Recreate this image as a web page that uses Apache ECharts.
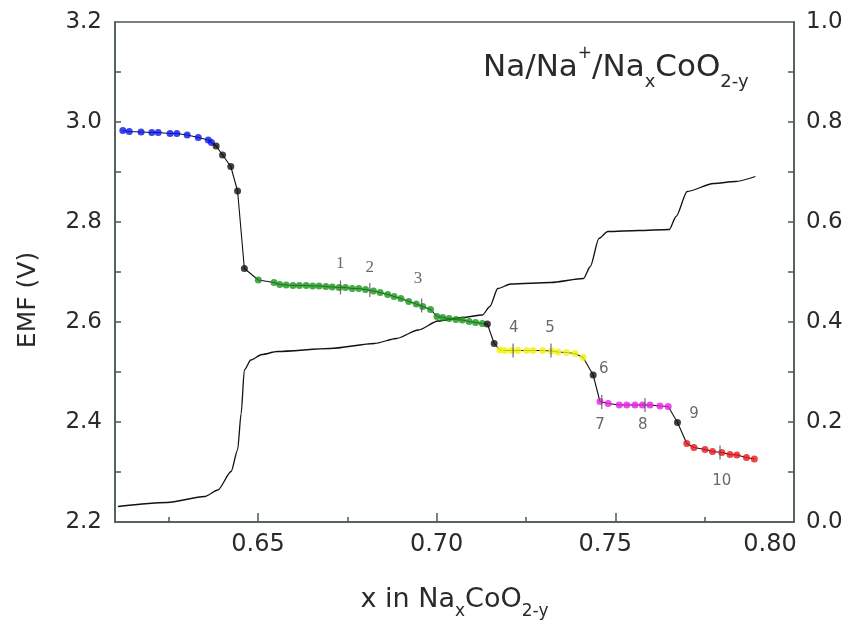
<!DOCTYPE html>
<html>
<head>
<meta charset="utf-8">
<script src="https://cdn.jsdelivr.net/npm/echarts@6/dist/echarts.min.js"></script>
<style>
  html, body { margin: 0; padding: 0; background: #fff; }
  #chart { width: 860px; height: 625px; }
</style>
</head>
<body>
<div id="chart"></div>
<script>
// Axis ticks and labels
const xTickLabels = [0.65, 0.70, 0.75, 0.80];
const xMajorTicks = [0.65, 0.70, 0.75];
const xMinorTicks = [0.625, 0.675, 0.725, 0.775];
const emfTickLabels = [2.2, 2.4, 2.6, 2.8, 3.0, 3.2];
const emfTicks = [2.3, 2.4, 2.5, 2.6, 2.7, 2.8, 2.9, 3.0, 3.1];
const rightTickLabels = [0.0, 0.2, 0.4, 0.6, 0.8, 1.0];
const rightTicks = [0.1, 0.2, 0.3, 0.4, 0.5, 0.6, 0.7, 0.8, 0.9];

// EMF measurements [x, EMF], grouped by plateau
const bluePts = [
  [0.6122, 2.983], [0.6140, 2.981], [0.6173, 2.980], [0.6203, 2.979], [0.6221, 2.979],
  [0.6254, 2.977], [0.6273, 2.977], [0.6302, 2.974], [0.6333, 2.969], [0.6361, 2.964],
  [0.6370, 2.959]
];
const blackPtsA = [[0.6383, 2.952], [0.6401, 2.934], [0.6424, 2.911], [0.6443, 2.862], [0.6462, 2.707]];
const greenPts = [
  [0.6501, 2.684], [0.6545, 2.679], [0.6561, 2.675], [0.6579, 2.674], [0.6598, 2.673],
  [0.6616, 2.673], [0.6635, 2.673], [0.6653, 2.672], [0.6671, 2.672], [0.6690, 2.671],
  [0.6708, 2.670], [0.6727, 2.669], [0.6745, 2.669], [0.6764, 2.667], [0.6782, 2.667],
  [0.6801, 2.665], [0.6823, 2.662], [0.6842, 2.659], [0.6863, 2.655], [0.6881, 2.651],
  [0.6900, 2.647], [0.6922, 2.641], [0.6943, 2.636], [0.6961, 2.631], [0.6983, 2.625],
  [0.7001, 2.611], [0.7017, 2.609], [0.7035, 2.607], [0.7054, 2.605], [0.7072, 2.604],
  [0.7091, 2.601], [0.7109, 2.599], [0.7128, 2.597]
];
const blackPtsB = [[0.7142, 2.596], [0.7161, 2.557]];
const yellowPts = [
  [0.7177, 2.544], [0.7191, 2.543], [0.7210, 2.543], [0.7228, 2.543], [0.7252, 2.543],
  [0.7270, 2.543], [0.7297, 2.543], [0.7322, 2.542], [0.7340, 2.540], [0.7364, 2.539],
  [0.7387, 2.537], [0.7410, 2.529]
];
const blackPtsC = [[0.7438, 2.494]];
const magentaPts = [
  [0.7457, 2.441], [0.7480, 2.437], [0.7511, 2.434], [0.7532, 2.434], [0.7555, 2.434],
  [0.7576, 2.434], [0.7597, 2.434], [0.7625, 2.432], [0.7648, 2.431]
];
const blackPtsD = [[0.7674, 2.399]];
const redPts = [
  [0.7700, 2.357], [0.7720, 2.349], [0.7751, 2.345], [0.7772, 2.341], [0.7798, 2.339],
  [0.7821, 2.335], [0.7840, 2.334], [0.7867, 2.329], [0.7889, 2.326]
];

// Second quantity (right axis) [x, value]
const rightCurve = [
  [0.6108, 0.031], [0.6246, 0.039], [0.6351, 0.051], [0.6388, 0.064], [0.6425, 0.101],
  [0.6443, 0.144], [0.6453, 0.217], [0.6462, 0.304], [0.6480, 0.324], [0.6511, 0.335],
  [0.6554, 0.341], [0.6702, 0.347], [0.6826, 0.357], [0.6887, 0.367], [0.6949, 0.384],
  [0.7004, 0.402], [0.7072, 0.409], [0.7128, 0.414], [0.7149, 0.431], [0.7171, 0.467],
  [0.7208, 0.476], [0.7319, 0.479], [0.7411, 0.487], [0.7430, 0.511], [0.7454, 0.567],
  [0.7479, 0.581], [0.7565, 0.583], [0.7651, 0.585], [0.7670, 0.611], [0.7701, 0.661],
  [0.7775, 0.677], [0.7836, 0.681], [0.7892, 0.691]
];

// Numbered compositions: short markers on the curve and their labels
const markerPts = [
  [0.6731, 2.669], [0.6813, 2.664], [0.6958, 2.633], [0.7214, 2.543], [0.7320, 2.543],
  [0.7462, 2.440], [0.7583, 2.434], [0.7793, 2.339]
];
const numberNames = ['1', '2', '3', '4', '5', '6', '7', '8', '9', '10'];
const numberPos = [
  [0.6730, 2.716], [0.6813, 2.708], [0.6948, 2.686], [0.7216, 2.588], [0.7317, 2.588],
  [0.7468, 2.506], [0.7457, 2.394], [0.7577, 2.394], [0.7720, 2.416], [0.7798, 2.282]
];

const FONT = 'DejaVu Sans, Verdana, sans-serif';
const SERIF = 'Liberation Serif, Times New Roman, serif';
const TEXT = '#2a2a2a';
const AXIS_COLOR = '#4c5858';
const allEmf = [].concat(bluePts, blackPtsA, greenPts, blackPtsB, yellowPts, blackPtsC, magentaPts, blackPtsD, redPts);

function dots(data, color, size) {
  return {
    type: 'scatter', data: data, symbol: 'circle', symbolSize: size || 7,
    itemStyle: { color: color }, z: 5, silent: true
  };
}

const chart = echarts.init(document.getElementById('chart'), null, { renderer: 'canvas' });
chart.setOption({
  animation: false,
  backgroundColor: '#fff',
  title: {
    text: '{a|Na/Na}{sup|+}{a|/Na}{sub|x}{a|CoO}{sub|2-y}',
    left: 478, top: 40,
    textStyle: {
      fontWeight: 'normal',
      rich: {
        a: { fontFamily: FONT, fontSize: 31, fontWeight: 'normal', color: TEXT, lineHeight: 46, verticalAlign: 'middle' },
        sup: { fontFamily: FONT, fontSize: 17, fontWeight: 'normal', color: TEXT, lineHeight: 46, verticalAlign: 'top' },
        sub: { fontFamily: FONT, fontSize: 18, fontWeight: 'normal', color: TEXT, lineHeight: 46, verticalAlign: 'bottom' }
      }
    }
  },
  grid: {
    left: 115, right: 66, top: 22, bottom: 103,
    outerBoundsMode: 'none', containLabel: false,
    show: true, borderColor: AXIS_COLOR, borderWidth: 1.5, backgroundColor: 'transparent'
  },
  xAxis: [
    {
      type: 'value', min: 0.61, max: 0.80, position: 'bottom',
      name: '{a|x in Na}{sub|x}{a|CoO}{sub|2-y}',
      nameLocation: 'middle', nameGap: 58,
      nameTextStyle: {
        rich: {
          a: { fontFamily: FONT, fontSize: 27, color: TEXT, lineHeight: 40, verticalAlign: 'middle' },
          sub: { fontFamily: FONT, fontSize: 17, color: TEXT, lineHeight: 40, verticalAlign: 'bottom' }
        }
      },
      axisLine: { show: true, lineStyle: { color: AXIS_COLOR, width: 1.5 } },
      axisTick: { show: true, inside: true, length: 9, customValues: xMajorTicks, lineStyle: { color: AXIS_COLOR, width: 1.5 } },
      axisLabel: {
        customValues: xTickLabels, margin: 11,
        formatter: function (v) {
          const s = v.toFixed(2);
          if (v > 0.79) return '{far|' + s + '}';
          if (v > 0.74) return '{mid|' + s + '}';
          return '{n|' + s + '}';
        },
        rich: {
          n: { fontFamily: FONT, fontSize: 24, color: TEXT },
          mid: { fontFamily: FONT, fontSize: 24, color: TEXT, padding: [0, 20, 0, 0] },
          far: { fontFamily: FONT, fontSize: 24, color: TEXT, padding: [0, 48, 0, 0] }
        }
      },
      splitLine: { show: false }
    },
    {
      type: 'value', min: 0.61, max: 0.80, position: 'bottom',
      axisLine: { show: false },
      axisTick: { show: true, inside: true, length: 5, customValues: xMinorTicks, lineStyle: { color: AXIS_COLOR, width: 1.5 } },
      axisLabel: { show: false },
      splitLine: { show: false }
    }
  ],
  yAxis: [
    {
      type: 'value', min: 2.2, max: 3.2, position: 'left',
      name: 'EMF (V)', nameLocation: 'middle', nameGap: 74,
      nameTextStyle: { fontFamily: FONT, fontSize: 25, color: TEXT, padding: [0, 56, 0, 0] },
      axisLine: { show: true, lineStyle: { color: AXIS_COLOR, width: 1.5 } },
      axisTick: { show: true, inside: true, length: 6, customValues: emfTicks, lineStyle: { color: AXIS_COLOR, width: 1.5 } },
      axisLabel: {
        customValues: emfTickLabels, margin: 13, fontFamily: FONT, fontSize: 23, color: TEXT,
        formatter: v => v.toFixed(1)
      },
      splitLine: { show: false }
    },
    {
      type: 'value', min: 0, max: 1, position: 'right',
      axisLine: { show: true, lineStyle: { color: AXIS_COLOR, width: 1.5 } },
      axisTick: { show: true, inside: true, length: 6, customValues: rightTicks, lineStyle: { color: AXIS_COLOR, width: 1.5 } },
      axisLabel: {
        customValues: rightTickLabels, margin: 12, fontFamily: FONT, fontSize: 23, color: TEXT,
        formatter: v => v.toFixed(1)
      },
      splitLine: { show: false }
    }
  ],
  series: [
    {
      type: 'line', yAxisIndex: 1, data: rightCurve, showSymbol: false,
      smooth: 0.25, smoothMonotone: 'x',
      lineStyle: { color: '#111', width: 1.3 }, z: 2, silent: true
    },
    {
      type: 'line', data: allEmf, showSymbol: false,
      lineStyle: { color: '#111', width: 1.1 }, z: 3, silent: true
    },
    {
      type: 'scatter', data: markerPts, symbol: 'rect', symbolSize: [1.3, 14],
      itemStyle: { color: '#555' }, z: 6, silent: true
    },
    dots(bluePts, '#0a14e6'),
    dots(greenPts, '#1a931a'),
    dots(yellowPts, '#f4f20c'),
    dots(magentaPts, '#e81ee6'),
    dots(redPts, '#e8141c'),
    dots([].concat(blackPtsA, blackPtsB, blackPtsC, blackPtsD), '#111'),
    {
      type: 'scatter', symbolSize: 0, silent: true, z: 7,
      data: numberPos.map((p, i) => ({
        value: p, name: numberNames[i],
        label: i < 3 ? { fontFamily: SERIF, fontSize: 17 } : undefined
      })),
      label: {
        show: true, position: 'inside', formatter: '{b}',
        fontFamily: FONT, fontSize: 15, color: '#444'
      }
    }
  ]
});
</script>
</body>
</html>
